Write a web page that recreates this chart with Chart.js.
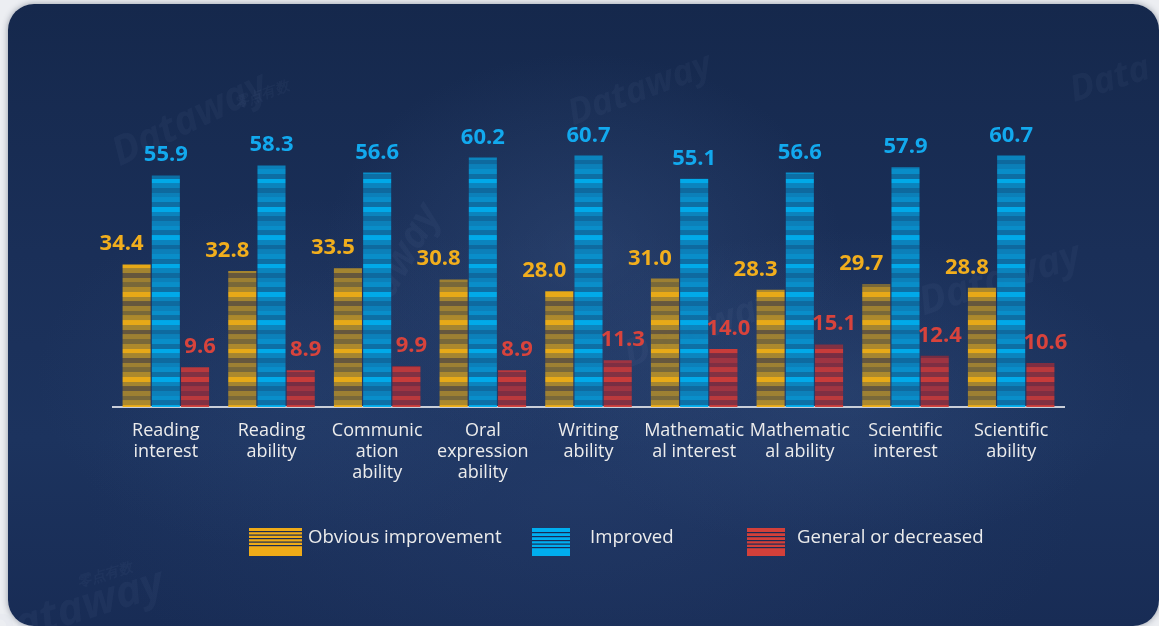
<!DOCTYPE html>
<html>
<head>
<meta charset="utf-8">
<script src="https://cdn.jsdelivr.net/npm/chart.js@4/dist/chart.umd.min.js"></script>
<style>
  html, body { margin: 0; padding: 0; }
  body { width: 1159px; height: 626px; background: #eceef2; position: relative; overflow: hidden; }
  .card {
    position: absolute; left: 8px; top: 4px; width: 1151px; height: 622px;
    border-radius: 26px;
    box-shadow: 0 0 6px rgba(40, 50, 70, 0.45);
    background:
      radial-gradient(ellipse 260px 200px at 50% 40%, rgba(70, 100, 150, 0.28), rgba(70, 100, 150, 0) 100%),
      radial-gradient(ellipse 300px 160px at 72% 62%, rgba(70, 100, 150, 0.22), rgba(70, 100, 150, 0) 100%),
      radial-gradient(ellipse 260px 180px at 25% 60%, rgba(60, 90, 140, 0.18), rgba(60, 90, 140, 0) 100%),
      radial-gradient(ellipse 500px 260px at 50% 78%, rgba(45, 70, 120, 0.35), rgba(45, 70, 120, 0) 100%),
      linear-gradient(180deg, #15284c 0%, #1a2f58 40%, #1c335e 70%, #182c55 100%);
  }
  canvas { position: absolute; left: 0; top: 0; }
</style>
</head>
<body>
<div class="card"></div>
<canvas id="chart" width="1159" height="626"></canvas>
<script>
// Survey categories (multi-line tick labels)
const categories = [
  ['Reading', 'interest'],
  ['Reading', 'ability'],
  ['Communic', 'ation', 'ability'],
  ['Oral', 'expression', 'ability'],
  ['Writing', 'ability'],
  ['Mathematic', 'al interest'],
  ['Mathematic', 'al ability'],
  ['Scientific', 'interest'],
  ['Scientific', 'ability']
];

// Share of respondents per answer (%)
const obviousImprovement = [34.4, 32.8, 33.5, 30.8, 28.0, 31.0, 28.3, 29.7, 28.8];
const improved           = [55.9, 58.3, 56.6, 60.2, 60.7, 55.1, 56.6, 57.9, 60.7];
const generalOrDecreased = [9.6, 8.9, 9.9, 8.9, 11.3, 14.0, 15.1, 12.4, 10.6];

const seriesNames = ['Obvious improvement', 'Improved', 'General or decreased'];

// Horizontal banding used to fill the bars
const helperCtx = document.createElement('canvas').getContext('2d');
function bandPattern(bands) {
  const c = document.createElement('canvas');
  c.width = 4; c.height = 85;
  const g = c.getContext('2d');
  const hs = [14, 14, 14, 14, 14, 15];
  let y = 0;
  bands.forEach((col, i) => { g.fillStyle = col; g.fillRect(0, y, 4, hs[i]); y += hs[i]; });
  const p = helperCtx.createPattern(c, 'repeat');
  p.setTransform(new DOMMatrix().translate(0, 8.67).scale(1, 1 / 3));
  return p;
}

const goldBands = ['rgba(242,176,20,0.95)', 'rgba(176,140,44,0.92)', 'rgba(107,90,59,0.92)',
                   'rgba(168,135,47,0.92)', 'rgba(128,108,54,0.92)', 'rgba(184,144,40,0.92)'];
const blueBands = ['rgba(0,176,240,0.95)', 'rgba(10,139,198,0.92)', 'rgba(13,111,165,0.92)',
                   'rgba(11,135,193,0.92)', 'rgba(8,150,210,0.92)', 'rgba(12,116,170,0.92)'];
const redBands  = ['rgba(210,60,56,0.95)', 'rgba(127,45,64,0.92)', 'rgba(169,52,63,0.92)',
                   'rgba(133,46,64,0.92)', 'rgba(200,58,58,0.92)', 'rgba(138,49,64,0.92)'];

const labelColors = ['#f1ae1d', '#12a9ee', '#d8433c'];
const swatchColors = ['#efab18', '#00aeef', '#d3403a'];
const labelShift = [-15, 0, 5];

const fontFamily = "'Open Sans', 'Noto Sans', sans-serif";

// Faint brand watermarks on the card background
const watermarkPlugin = {
  id: 'watermarks',
  beforeDraw(chart) {
    const ctx = chart.ctx;
    const marks = [
      { t: 'Dataway', x: 190, y: 120, r: -0.45, s: 40 },
      { t: '零点有数', x: 262, y: 95, r: -0.35, s: 14 },
      { t: 'Dataway', x: 390, y: 280, r: -1.05, s: 40 },
      { t: 'Dataway', x: 75, y: 610, r: -0.3, s: 44 },
      { t: '零点有数', x: 105, y: 575, r: -0.3, s: 14 },
      { t: 'Data', x: 1110, y: 80, r: -0.3, s: 36 },
      { t: 'Dataway', x: 640, y: 90, r: -0.35, s: 36 },
      { t: 'Dataway', x: 1000, y: 280, r: -0.3, s: 40 },
      { t: 'Dataway', x: 700, y: 330, r: -0.35, s: 38 }
    ];
    ctx.save();
    ctx.fillStyle = 'rgba(150, 175, 215, 0.05)';
    ctx.textAlign = 'center';
    ctx.textBaseline = 'middle';
    marks.forEach(m => {
      ctx.save();
      ctx.translate(m.x, m.y);
      ctx.rotate(m.r);
      ctx.font = `italic bold ${m.s}px ${fontFamily}`;
      ctx.fillText(m.t, 0, 0);
      ctx.restore();
    });
    ctx.restore();
  }
};

// Value labels above each bar
const valueLabelPlugin = {
  id: 'valueLabels',
  afterDatasetsDraw(chart) {
    const ctx = chart.ctx;
    ctx.save();
    ctx.font = `bold 22px ${fontFamily}`;
    ctx.textAlign = 'center';
    ctx.textBaseline = 'alphabetic';
    chart.data.datasets.forEach((ds, di) => {
      const meta = chart.getDatasetMeta(di);
      ctx.fillStyle = labelColors[di];
      meta.data.forEach((bar, i) => {
        ctx.fillText(ds.data[i].toFixed(1), bar.x + labelShift[di], bar.y - 14);
      });
    });
    ctx.restore();
  }
};

// Legend row with lined swatches
const legendPlugin = {
  id: 'linedLegend',
  afterDraw(chart) {
    const ctx = chart.ctx;
    const items = [
      { sx: 249, sw: 53, tx: 308, lines: [3, 6.5, 10, 13.5, 17] },
      { sx: 532, sw: 38, tx: 590, lines: [4, 8, 12, 15.5, 19] },
      { sx: 747, sw: 38, tx: 797, lines: [4, 8, 12, 15.5, 19] }
    ];
    const top = 528, h = 28;
    ctx.save();
    items.forEach((it, i) => {
      ctx.fillStyle = swatchColors[i];
      ctx.fillRect(it.sx, top, it.sw, h);
      ctx.fillStyle = '#1a2c55';
      it.lines.forEach(ly => ctx.fillRect(it.sx, top + ly, it.sw, 1.2));
      ctx.fillStyle = '#ececec';
      ctx.font = `18.6px ${fontFamily}`;
      ctx.textAlign = 'left';
      ctx.textBaseline = 'alphabetic';
      ctx.fillText(chart.data.datasets[i].label, it.tx, 543);
    });
    ctx.restore();
  }
};

new Chart(document.getElementById('chart'), {
  type: 'bar',
  data: {
    labels: categories,
    datasets: [
      { label: seriesNames[0], data: obviousImprovement, backgroundColor: bandPattern(goldBands) },
      { label: seriesNames[1], data: improved, backgroundColor: bandPattern(blueBands) },
      { label: seriesNames[2], data: generalOrDecreased, backgroundColor: bandPattern(redBands) }
    ]
  },
  options: {
    responsive: false,
    animation: false,
    devicePixelRatio: 1,
    categoryPercentage: 0.83,
    barPercentage: 0.96,
    layout: { padding: { left: 113, right: 95, top: 117, bottom: 0 } },
    plugins: {
      legend: { display: false },
      tooltip: { enabled: false }
    },
    scales: {
      y: { display: false, min: 0, max: 70 },
      x: {
        grid: { display: false, drawTicks: false },
        border: { display: true, color: '#c9ced8', width: 2 },
        ticks: {
          color: '#ececec',
          padding: 13,
          maxRotation: 0,
          autoSkip: false,
          font: { family: fontFamily, size: 18, lineHeight: 21 / 18 }
        },
        afterFit(scale) { scale.height = 219; }
      }
    }
  },
  plugins: [watermarkPlugin, valueLabelPlugin, legendPlugin]
});
</script>
</body>
</html>
